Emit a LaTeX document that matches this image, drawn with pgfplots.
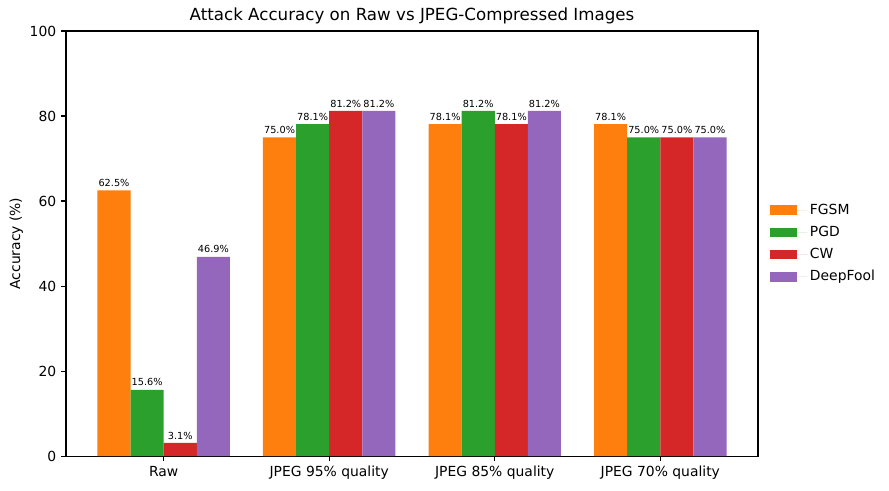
\documentclass[border=0pt]{standalone}
\usepackage{pgfplots}
\pgfplotsset{compat=1.18}
\usepackage{fontspec}
\setmainfont{DejaVu Sans}
\definecolor{cO}{HTML}{FF7F0E}
\definecolor{cG}{HTML}{2CA02C}
\definecolor{cR}{HTML}{D62728}
\definecolor{cP}{HTML}{9467BD}
\begin{document}
\begin{tikzpicture}
\begin{axis}[
  scale only axis,
  width=498pt, height=306pt,
  ybar=0pt, bar width=0.2,
  xmin=-0.59, xmax=3.59,
  ymin=0, ymax=100,
  xtick={0,1,2,3},
  xticklabels={Raw,JPEG 95\% quality,JPEG 85\% quality,JPEG 70\% quality},
  ytick={0,20,40,60,80,100},
  tick pos=left,
  tick align=outside,
  major tick length=3.5pt,
  every tick/.style={black, line width=0.8pt},
  axis line style={line width=0.8pt},
  tick label style={font=\fontsize{10}{12}\selectfont},
  /pgf/number format/assume math mode=true,
  ylabel={Accuracy (\%)},
  ylabel style={font=\fontsize{10}{12}\selectfont, yshift=-2pt},
  title={Attack Accuracy on Raw vs JPEG-Compressed Images},
  title style={font=\fontsize{12}{14}\selectfont, yshift=-4.5pt},
  nodes near coords={\pgfmathprintnumber[fixed,precision=1,fixed zerofill]{\pgfplotspointmeta}\%},
  every node near coord/.append style={font=\fontsize{7}{8}\selectfont, text=black, inner sep=1pt, yshift=1.5pt},
  legend style={at={(1.0105,0.5)}, anchor=west, draw=none, fill=none, font=\fontsize{10}{12}\selectfont, row sep=3pt},
  legend cell align=left,
  legend image code/.code={\fill[#1, draw=none] (0pt,-3.5pt) rectangle (20pt,3.5pt); \path (0pt,0pt) -- (27pt,0pt);},
]
\addplot[fill=cO, draw=none] coordinates {(0,62.5) (1,75.0) (2,78.1) (3,78.1)};
\addplot[fill=cG, draw=none] coordinates {(0,15.6) (1,78.1) (2,81.2) (3,75.0)};
\addplot[fill=cR, draw=none] coordinates {(0,3.1) (1,81.2) (2,78.1) (3,75.0)};
\addplot[fill=cP, draw=none] coordinates {(0,46.9) (1,81.2) (2,81.2) (3,75.0)};
\legend{FGSM,PGD,CW,DeepFool}
\end{axis}
\path (0,0) ++(-47.5pt,-24.5pt) rectangle (498pt+94.3pt, 306pt+22.3pt);
\end{tikzpicture}
\end{document}
